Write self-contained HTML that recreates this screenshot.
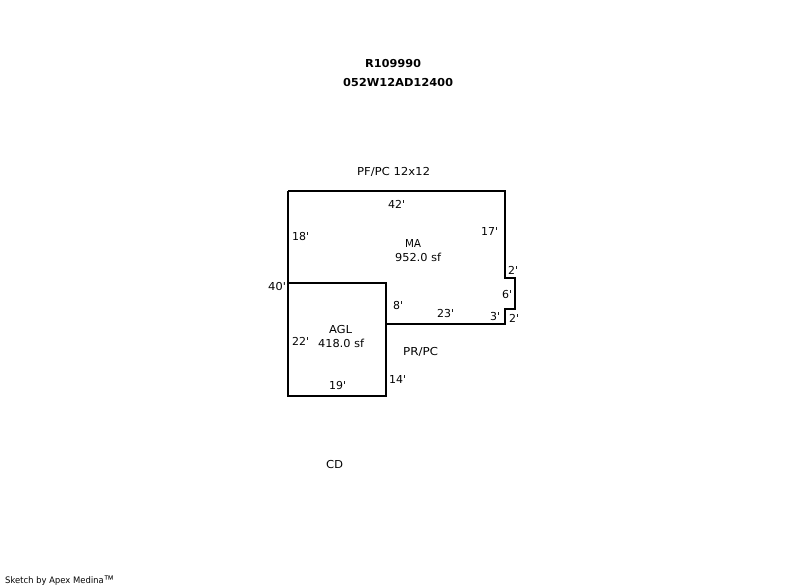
<!DOCTYPE html>
<html>
<head>
<meta charset="utf-8">
<style>
html,body{margin:0;padding:0;background:#fff;width:800px;height:587px;overflow:hidden}
svg{display:block}
text{font-family:"DejaVu Sans","Liberation Sans",sans-serif;font-size:11px;fill:#000;text-rendering:geometricPrecision}
.b{font-weight:bold}
</style>
</head>
<body>
<svg width="800" height="587" viewBox="0 0 800 587" xmlns="http://www.w3.org/2000/svg">
<g fill="none" stroke="#000" stroke-width="2" shape-rendering="crispEdges">
<path d="M288 191H505V278H515V309H505V324H386"/>
<path d="M288 191V396H386V283H288"/>
</g>
<text class="b" x="365" y="67" textLength="56" lengthAdjust="spacingAndGlyphs">R109990</text>
<text class="b" x="343" y="86" textLength="110" lengthAdjust="spacingAndGlyphs">052W12AD12400</text>
<text x="357" y="175" textLength="73" lengthAdjust="spacingAndGlyphs">PF/PC 12x12</text>
<text x="388" y="208" textLength="17" lengthAdjust="spacingAndGlyphs">42'</text>
<text x="292" y="240" textLength="17" lengthAdjust="spacingAndGlyphs">18'</text>
<text x="481" y="235" textLength="17" lengthAdjust="spacingAndGlyphs">17'</text>
<text x="405" y="247" textLength="16" lengthAdjust="spacingAndGlyphs">MA</text>
<text x="395" y="261" textLength="46" lengthAdjust="spacingAndGlyphs">952.0 sf</text>
<text x="508" y="274" textLength="10" lengthAdjust="spacingAndGlyphs">2'</text>
<text x="268" y="290" textLength="18" lengthAdjust="spacingAndGlyphs">40'</text>
<text x="502" y="298" textLength="10" lengthAdjust="spacingAndGlyphs">6'</text>
<text x="393" y="309" textLength="10" lengthAdjust="spacingAndGlyphs">8'</text>
<text x="437" y="317" textLength="17" lengthAdjust="spacingAndGlyphs">23'</text>
<text x="490" y="320" textLength="10" lengthAdjust="spacingAndGlyphs">3'</text>
<text x="509" y="322" textLength="10" lengthAdjust="spacingAndGlyphs">2'</text>
<text x="329" y="333" textLength="23" lengthAdjust="spacingAndGlyphs">AGL</text>
<text x="318" y="347" textLength="46" lengthAdjust="spacingAndGlyphs">418.0 sf</text>
<text x="292" y="345" textLength="17" lengthAdjust="spacingAndGlyphs">22'</text>
<text x="403" y="355" textLength="35" lengthAdjust="spacingAndGlyphs">PR/PC</text>
<text x="389" y="383" textLength="17" lengthAdjust="spacingAndGlyphs">14'</text>
<text x="329" y="389" textLength="17" lengthAdjust="spacingAndGlyphs">19'</text>
<text x="326" y="468" textLength="17" lengthAdjust="spacingAndGlyphs">CD</text>
<text x="5" y="583" style="font-size:9px" textLength="109" lengthAdjust="spacingAndGlyphs">Sketch by Apex Medina<tspan style="font-family:'Liberation Sans',sans-serif;font-size:11px">™</tspan></text>
</svg>
</body>
</html>
